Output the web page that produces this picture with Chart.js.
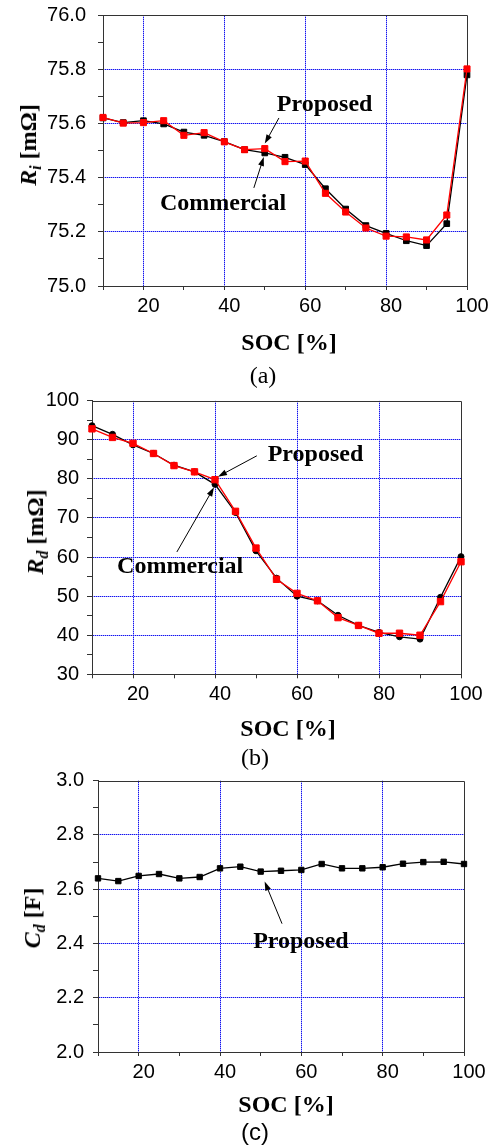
<!DOCTYPE html>
<html>
<head>
<meta charset="utf-8">
<script src="https://cdn.jsdelivr.net/npm/chart.js@4.4.1/dist/chart.umd.min.js"></script>
<style>
  html, body { margin: 0; padding: 0; background: #fff; }
  #page { position: relative; width: 498px; height: 1147px; overflow: hidden; background: #fff; }
  #page canvas { position: absolute; left: 0; }
  .t { position: absolute; transform: translate(-50%, -50%); white-space: nowrap; line-height: 1; color: #000;
       font-family: "Liberation Serif", "Times New Roman", serif; }
  .ax { font-weight: bold; font-size: 24px; }
  .yt { transform: translate(-50%, -50%) rotate(-90deg); }
  .yt i { font-style: italic; }
  .yt .sub { font-size: 16px; font-style: italic; position: relative; top: 5px; }
  .cap { font-size: 24px; }
  .cap.sans { font-family: "Liberation Sans", Arial, sans-serif; }
</style>
</head>
<body>
<div id="page">
  <canvas id="chartRi" width="498" height="360" style="top:0px"></canvas>
  <canvas id="chartRd" width="498" height="340" style="top:380px"></canvas>
  <canvas id="chartCd" width="498" height="330" style="top:770px"></canvas>

  <div class="t ax yt" style="left:28px; top:145px"><i>R</i><span class="sub">i</span> [mΩ]</div>
  <div class="t ax" style="left:289px; top:342px">SOC [%]</div>
  <div class="t cap" style="left:263px; top:375px">(a)</div>

  <div class="t ax yt" style="left:35px; top:532px"><i>R</i><span class="sub">d</span> [mΩ]</div>
  <div class="t ax" style="left:288px; top:728px">SOC [%]</div>
  <div class="t cap" style="left:255px; top:757px">(b)</div>

  <div class="t ax yt" style="left:32px; top:918px"><i>C</i><span class="sub">d</span> [F]</div>
  <div class="t ax" style="left:286px; top:1104px">SOC [%]</div>
  <div class="t cap sans" style="left:255px; top:1132px">(c)</div>
</div>
<script>
// State of charge sample points [%]
const soc = [10, 15, 20, 25, 30, 35, 40, 45, 50, 55, 60, 65, 70, 75, 80, 85, 90, 95, 100];

// Internal resistance Ri [mΩ]
const riCommercial = [75.620, 75.603, 75.610, 75.598, 75.568, 75.556, 75.533, 75.503, 75.491, 75.475,
                      75.448, 75.359, 75.284, 75.223, 75.194, 75.167, 75.149, 75.230, 75.779];
const riProposed   = [75.622, 75.601, 75.603, 75.610, 75.556, 75.566, 75.532, 75.503, 75.507, 75.459,
                      75.461, 75.342, 75.273, 75.214, 75.184, 75.181, 75.170, 75.262, 75.801];

// Diffusion resistance Rd [mΩ]
const rdCommercial = [93.6, 91.4, 88.7, 86.5, 83.5, 81.8, 78.6, 71.4, 61.6, 54.6,
                      50.0, 48.8, 45.1, 42.5, 40.7, 39.6, 39.0, 49.7, 60.1];
const rdProposed   = [92.8, 90.6, 89.1, 86.5, 83.4, 81.8, 79.8, 71.7, 62.3, 54.3,
                      50.7, 48.8, 44.5, 42.5, 40.5, 40.5, 40.0, 48.6, 58.8];

// Diffusion capacitance Cd [F]
const cdProposed   = [2.640, 2.630, 2.649, 2.656, 2.640, 2.645, 2.677, 2.683, 2.665, 2.668,
                      2.671, 2.693, 2.677, 2.677, 2.681, 2.694, 2.700, 2.701, 2.693];

// Tick labels
const socTickLabels = ['20', '40', '60', '80', '100'];
const riTickLabels  = ['75.0', '75.2', '75.4', '75.6', '75.8', '76.0'];
const rdTickLabels  = ['30', '40', '50', '60', '70', '80', '90', '100'];
const cdTickLabels  = ['2.0', '2.2', '2.4', '2.6', '2.8', '3.0'];

const AXIS_COLOR = '#333';
const TICK_FONT = { family: '"Liberation Sans", Arial, sans-serif', size: 20 };
const NOTE_FONT = 'bold 24px "Liberation Serif", "Times New Roman", serif';

// Dotted blue grid: a 2x2 checker pattern gives alternating dark/light blue pixels
// along both horizontal and vertical grid lines.
const GRID_BLUE = (() => {
  const c = document.createElement('canvas');
  c.width = 2; c.height = 2;
  const g = c.getContext('2d');
  g.fillStyle = 'rgb(165,165,255)';
  g.fillRect(0, 0, 2, 2);
  g.fillStyle = 'rgb(20,20,235)';
  g.fillRect(0, 0, 1, 1);
  g.fillRect(1, 1, 1, 1);
  return g.createPattern(c, 'repeat');
})();

const points = (vals) => soc.map((x, i) => ({ x, y: vals[i] }));

function isInnerLine(ctx, labels, digits) {
  if (!ctx.tick) return false;
  const n = ctx.scale.ticks.length;
  if (ctx.index === 0 || ctx.index === n - 1) return false;
  return labels.includes(ctx.tick.value.toFixed(digits));
}

function xScale(bandHeight) {
  return {
    type: 'linear', min: 10, max: 100,
    afterFit(s) { s.height = bandHeight; s.paddingLeft = 0; s.paddingRight = 0; },
    ticks: {
      stepSize: 10, autoSkip: false, maxRotation: 0, minRotation: 0,
      padding: 4, labelOffset: 5, color: '#000', font: TICK_FONT,
      callback: (v) => socTickLabels.includes(String(v)) ? String(v) : ''
    },
    grid: {
      color: (ctx) => isInnerLine(ctx, socTickLabels, 0) ? GRID_BLUE : 'rgba(0,0,0,0)',
      lineWidth: 1, tickLength: 4, tickColor: AXIS_COLOR, tickWidth: 1
    },
    border: { color: AXIS_COLOR, width: 1 }
  };
}

function yScale(min, max, step, digits, labels, axisWidth, pad) {
  return {
    type: 'linear', min, max,
    afterFit(s) { s.width = axisWidth; s.paddingTop = 0; s.paddingBottom = 0; },
    ticks: {
      stepSize: step, autoSkip: false, padding: pad, color: '#000', font: TICK_FONT,
      callback: (v) => { const s = Number(v).toFixed(digits); return labels.includes(s) ? s : ''; }
    },
    grid: {
      color: (ctx) => isInnerLine(ctx, labels, digits) ? GRID_BLUE : 'rgba(0,0,0,0)',
      lineWidth: 1, tickLength: 5, tickColor: AXIS_COLOR, tickWidth: 1
    },
    border: { color: AXIS_COLOR, width: 1 }
  };
}

function drawArrow(ctx, x1, y1, x2, y2) {
  const a = Math.atan2(y2 - y1, x2 - x1), L = 9, W = 3;
  ctx.beginPath();
  ctx.moveTo(x1, y1);
  ctx.lineTo(x2 - (L - 2) * Math.cos(a), y2 - (L - 2) * Math.sin(a));
  ctx.stroke();
  ctx.beginPath();
  ctx.moveTo(x2, y2);
  ctx.lineTo(x2 - L * Math.cos(a) + W * Math.sin(a), y2 - L * Math.sin(a) - W * Math.cos(a));
  ctx.lineTo(x2 - L * Math.cos(a) - W * Math.sin(a), y2 - L * Math.sin(a) + W * Math.cos(a));
  ctx.closePath();
  ctx.fill();
}

// Plot frame (top/right edges) and the arrow call-outs naming each curve
function framePlugin(notes) {
  return {
    id: 'frameNotes',
    beforeDatasetsDraw(chart) {
      const { ctx, chartArea: a } = chart;
      ctx.save();
      ctx.strokeStyle = AXIS_COLOR;
      ctx.lineWidth = 1;
      ctx.beginPath();
      ctx.moveTo(Math.round(a.left) + 0.5, Math.round(a.top) + 0.5);
      ctx.lineTo(Math.round(a.right) + 0.5, Math.round(a.top) + 0.5);
      ctx.lineTo(Math.round(a.right) + 0.5, Math.round(a.bottom) + 0.5);
      ctx.stroke();
      ctx.restore();
    },
    afterDatasetsDraw(chart) {
      const { ctx, scales: { x, y } } = chart;
      ctx.save();
      ctx.font = NOTE_FONT;
      ctx.fillStyle = '#000';
      ctx.strokeStyle = '#000';
      ctx.lineWidth = 1;
      ctx.textAlign = 'center';
      ctx.textBaseline = 'middle';
      for (const n of notes) {
        ctx.fillText(n.text, x.getPixelForValue(n.at[0]), y.getPixelForValue(n.at[1]));
        const pt = chart.getDatasetMeta(n.tip.dataset).data[n.tip.index];
        drawArrow(ctx,
          x.getPixelForValue(n.tail[0]), y.getPixelForValue(n.tail[1]),
          pt.x + n.tip.dx, pt.y + n.tip.dy);
      }
      ctx.restore();
    }
  };
}

function lineSet(label, vals, color, style, radius, width) {
  return {
    label, data: points(vals),
    borderColor: color, backgroundColor: color,
    borderWidth: width, tension: 0,
    pointStyle: style, pointRadius: radius, pointBorderWidth: 1,
    pointBackgroundColor: color, pointBorderColor: color,
    clip: false
  };
}

function makeChart(id, datasets, scales, padding, notes) {
  return new Chart(document.getElementById(id), {
    type: 'line',
    data: { datasets },
    options: {
      responsive: false, animation: false, devicePixelRatio: 1,
      layout: { padding },
      plugins: { legend: { display: false }, tooltip: { enabled: false }, title: { display: false } },
      scales
    },
    plugins: [framePlugin(notes)]
  });
}

// (a) Ri vs SOC
makeChart('chartRi',
  [lineSet('Proposed', riProposed, '#ff0000', 'rect', 4.3, 1.3),
   lineSet('Commercial', riCommercial, '#000000', 'rect', 4.0, 1.3)],
  { x: xScale(360 - 286), y: yScale(75, 76, 0.1, 1, riTickLabels, 103, 12) },
  { top: 15, right: 31, left: 0, bottom: 0 },
  [
    { text: 'Proposed', at: [64.8, 75.668], tail: [53.5, 75.620], tip: { dataset: 0, index: 8, dx: 0, dy: -5 } },
    { text: 'Commercial', at: [39.7, 75.303], tail: [47.3, 75.362], tip: { dataset: 1, index: 8, dx: -1, dy: 4 } }
  ]);

// (b) Rd vs SOC
makeChart('chartRd',
  [lineSet('Proposed', rdProposed, '#ff0000', 'rect', 4.5, 1.3),
   lineSet('Commercial', rdCommercial, '#000000', 'circle', 3.0, 1.3)],
  { x: xScale(340 - 294.3), y: yScale(30, 100, 5, 0, rdTickLabels, 92, 8) },
  { top: 20.7, right: 37, left: 0, bottom: 0 },
  [
    { text: 'Proposed', at: [64.5, 86.15], tail: [50.2, 85.9], tip: { dataset: 0, index: 6, dx: 3, dy: -3 } },
    { text: 'Commercial', at: [31.5, 57.4], tail: [30.7, 61.3], tip: { dataset: 1, index: 6, dx: -1, dy: 3 } }
  ]);

// (c) Cd vs SOC
makeChart('chartCd',
  [lineSet('Proposed', cdProposed, '#000000', 'rect', 3.8, 1.3)],
  { x: xScale(330 - 282), y: yScale(2, 3, 0.1, 1, cdTickLabels, 98, 9) },
  { top: 10.7, right: 34, left: 0, bottom: 0 },
  [
    { text: 'Proposed', at: [59.9, 2.4066], tail: [55.25, 2.473], tip: { dataset: 0, index: 8, dx: 4, dy: 10 } }
  ]);
</script>
</body>
</html>
